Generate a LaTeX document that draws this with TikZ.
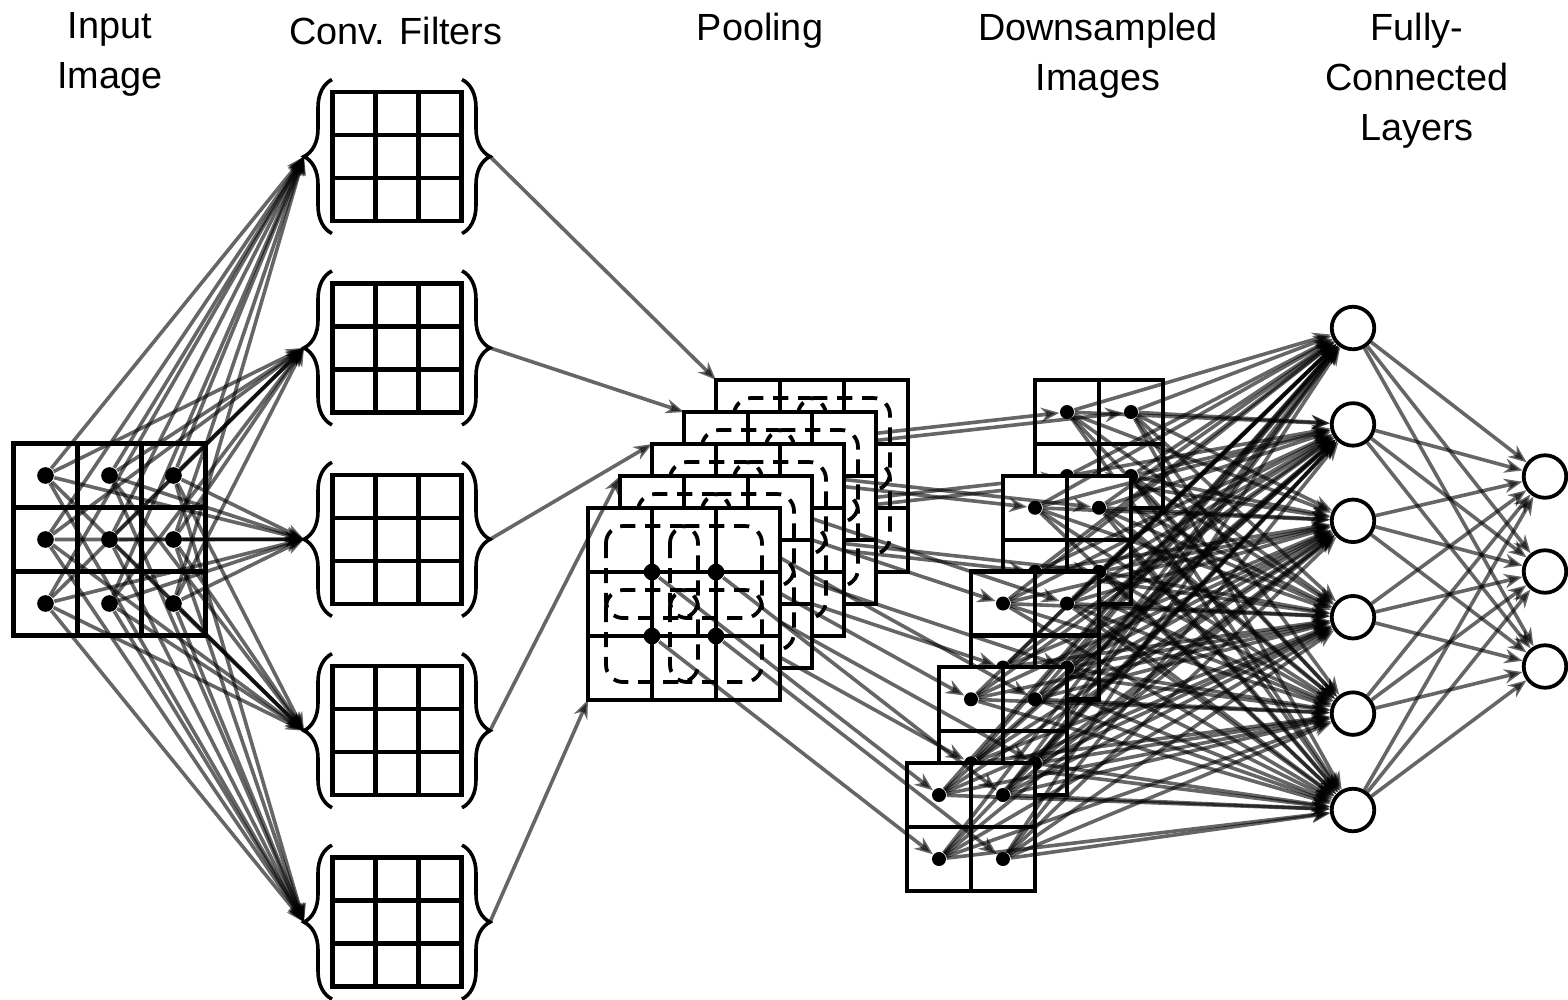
\documentclass[tikz,border=0pt]{standalone}
\usepackage{fontspec}
\setmainfont{Liberation Sans}
\usetikzlibrary{positioning, arrows.meta, decorations.pathreplacing}

\tikzset{
  conn/.style={-{Stealth[length=4.8pt,width=3.8pt,inset=1.5pt]}, line width=0.95pt, black, opacity=0.6},
  bigdot/.style={circle, fill=black, inner sep=0pt, minimum size=4.4pt},
  smalldot/.style={circle, fill=black, inner sep=0pt, minimum size=3.7pt},
  neuron/.style={circle, draw, line width=1pt, fill=white, inner sep=0pt, minimum size=0.395cm},
  gridline/.style={line width=1.15pt},
  poolwin/.style={line width=1pt, dash pattern=on 4pt off 2.6pt, rounded corners=4.5pt},
  headtext/.style={align=center, inner sep=0pt, anchor=north, font=\fontsize{10}{13.2}\selectfont},
  filterbrace/.style={decorate, decoration={brace, amplitude=0.26cm}, line width=0.95pt}
}

\begin{document}
\begin{tikzpicture}[x=0.929cm, y=-0.929cm]
\useasboundingbox (0,0) rectangle (15.68,9.99);

        % Titles
        \node[headtext] (tin) at (1.10,0.12) {Input\\Image};
        \node[headtext] (tconv) at (3.96,0.16) {Conv. Filters};
        \node[headtext] (tpool) at (7.60,0.12) {Pooling};
        \node[headtext] (tdown) at (10.98,0.12) {Downsampled\\Images};
        \node[headtext] (tfc) at (14.17,0.12) {Fully-\\Connected\\Layers};

        % Input image
        \foreach \i in {0,1,2}
          \foreach \j in {0,1,2} {
            \draw[gridline] (0.135+0.64*\i,4.435+0.64*\j) rectangle ++(0.64,0.64);
            \node[bigdot] (in-\i-\j) at (0.455+0.64*\i,4.755+0.64*\j) {};
          }

        % Conv. filters
        \foreach \n in {1,...,5} {
          \pgfmathsetmacro{\cy}{1.565+1.914*(\n-1)}
          \foreach \i in {0,1,2}
            \foreach \j in {0,1,2}
              \draw[gridline] (3.325+0.43*\i,\cy-0.645+0.43*\j) rectangle ++(0.43,0.43);
          \draw[filterbrace] (3.32,\cy+0.77) -- (3.32,\cy-0.77);
          \draw[filterbrace] (4.62,\cy-0.77) -- (4.62,\cy+0.77);
          \coordinate (fl\n) at (3.04,\cy);
          \coordinate (fr\n) at (4.90,\cy);
        }

        % Input -> filters
        \foreach \n in {1,...,5}
          \foreach \i in {0,1,2}
            \foreach \j in {0,1,2}
              \draw[conn] (in-\i-\j) -- (fl\n);

        % Fully-connected layers
        \foreach \n in {1,...,6}
          \node[neuron] (h\n) at (13.53,3.28+0.964*\n-0.964) {};
        \foreach \n in {1,2,3}
          \node[neuron] (o\n) at (15.45,4.765+0.95*\n-0.95) {};

        % Pooling maps and downsampled images, back to front
        \foreach \k in {1,...,5} {
          \pgfmathtruncatemacro{\j}{6-\k}
          \pgfmathsetmacro{\poolx}{5.88+0.32*(\j-1)}
          \pgfmathsetmacro{\pooly}{5.08-0.32*(\j-1)}
          \pgfmathsetmacro{\smx}{10.35-0.32*(\k-1)}
          \pgfmathsetmacro{\smy}{3.80+0.9575*(\k-1)}
          % pooling map
          \fill[white] (\poolx,\pooly) rectangle ++(1.92,1.92);
          \foreach \i in {0,1,2}
            \foreach \m in {0,1,2}
              \draw[gridline] (\poolx+0.64*\i,\pooly+0.64*\m) rectangle ++(0.64,0.64);
          \foreach \a/\b in {0/0,0.64/0,0/0.64,0.64/0.64}
            \draw[poolwin] (\poolx+\a+0.18,\pooly+\b+0.18) rectangle ++(0.92,0.92);
          \coordinate (pc\j) at (\poolx,\pooly);
          \coordinate (pb\j) at (\poolx,\pooly+1.92);
          \node[bigdot] (p\j-1) at (\poolx+0.64,\pooly+0.64) {};
          \node[bigdot] (p\j-2) at (\poolx+1.28,\pooly+0.64) {};
          \node[bigdot] (p\j-3) at (\poolx+0.64,\pooly+1.28) {};
          \node[bigdot] (p\j-4) at (\poolx+1.28,\pooly+1.28) {};
          % downsampled image
          \fill[white] (\smx,\smy) rectangle ++(1.28,1.28);
          \foreach \i in {0,1}
            \foreach \m in {0,1}
              \draw[gridline] (\smx+0.64*\i,\smy+0.64*\m) rectangle ++(0.64,0.64);
          \node[smalldot] (d\k-1) at (\smx+0.32,\smy+0.32) {};
          \node[smalldot] (d\k-2) at (\smx+0.96,\smy+0.32) {};
          \node[smalldot] (d\k-3) at (\smx+0.32,\smy+0.96) {};
          \node[smalldot] (d\k-4) at (\smx+0.96,\smy+0.96) {};
          \foreach \q in {1,...,4}
            \draw[conn] (p\j-\q) -- (d\k-\q);
          \foreach \q in {1,...,4}
            \foreach \n in {1,...,6}
              \draw[conn] (d\k-\q) -- (h\n);
        }

        % Filters -> pooling
        \draw[conn] (fr1) -- (pc5);
        \draw[conn] (fr2) -- (pc4);
        \draw[conn] (fr3) -- (pc3);
        \draw[conn] (fr4) -- (pc2);
        \draw[conn] (fr5) -- (pb1);

        % Hidden -> output
        \foreach \a in {1,...,6}
          \foreach \b in {1,2,3}
            \draw[conn] (h\a) -- (o\b);

\end{tikzpicture}
\end{document}
